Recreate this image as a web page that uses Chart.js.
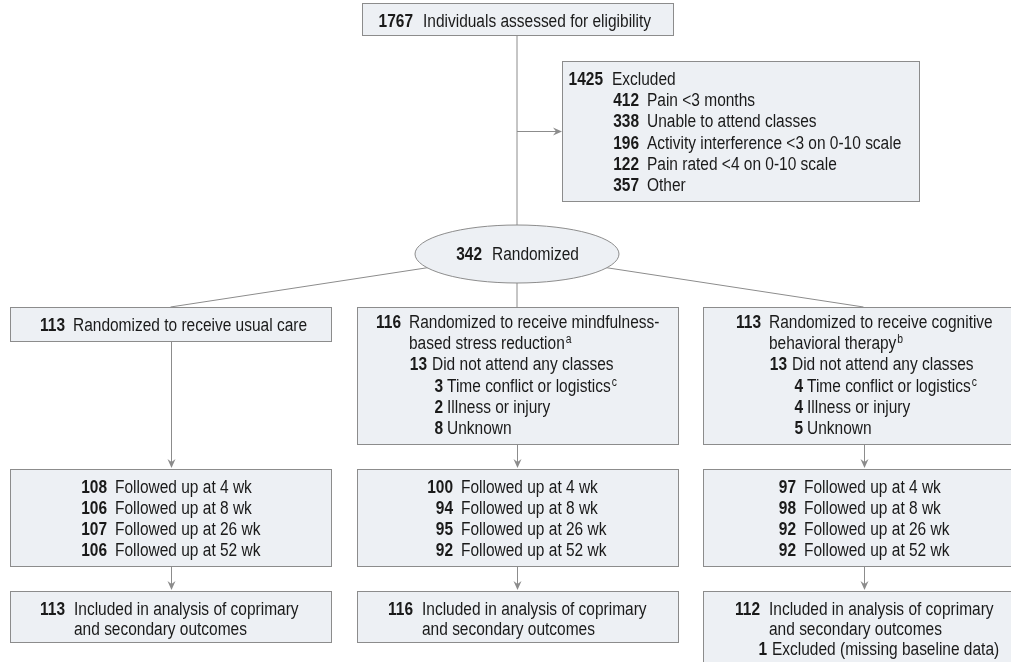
<!DOCTYPE html>
<html>
<head>
<meta charset="utf-8">
<script src="https://cdn.jsdelivr.net/npm/chart.js@4/dist/chart.umd.min.js"></script>
<style>
  html, body { margin: 0; padding: 0; background: #fff; }
  #wrap { width: 1011px; height: 662px; position: relative; }
</style>
</head>
<body>
<div id="wrap"><canvas id="flow"></canvas></div>
<script>
// ══════════════════════════════════════════
// DATA
// ══════════════════════════════════════════
const assessed = 1767;
const excludedTotal = 1425;
const exclusionCounts = [412, 338, 196, 122, 357];
const exclusionReasons = [
  "Pain <3 months",
  "Unable to attend classes",
  "Activity interference <3 on 0-10 scale",
  "Pain rated <4 on 0-10 scale",
  "Other",
];
const randomized = 342;

const armCounts = [113, 116, 113];
const armLabels = [
  ["Randomized to receive usual care"],
  ["Randomized to receive mindfulness-", "based stress reduction"],
  ["Randomized to receive cognitive", "behavioral therapy"],
];
const armNotes = [null, "a", "b"];

const noClassTotals = [null, 13, 13];
const noClassReasons = ["Time conflict or logistics", "Illness or injury", "Unknown"];
const noClassNotes = ["c", null, null];
const noClassCounts = [null, [3, 2, 8], [4, 4, 5]];

const followUpWeeks = [4, 8, 26, 52];
const followUpUsualCare = [108, 106, 107, 106];
const followUpMBSR = [100, 94, 95, 92];
const followUpCBT = [97, 98, 92, 92];
const followUps = [followUpUsualCare, followUpMBSR, followUpCBT];

const analyzedCounts = [113, 116, 112];
const analyzedExcluded = [0, 0, 1];

// ══════════════════════════════════════════
// LAYOUT (page units, same as pixels)
// ══════════════════════════════════════════
// no condensed face installed -> squeeze Liberation Sans horizontally
const FONT = '"Liberation Sans", Arial, sans-serif';
const FS = 18;
const SX = 0.86;
const LINE = "#8c8c8c";
const FILL = "#edf0f4";
const INK = "#1a1a1a";

const colCenter = [170.5, 517, 863.5];
const colLeft = [10, 357, 703];
const colW = 321;
const armBox = { top: 307, bottom: [341, 444, 444] };
const fuBox = { top: 469, bottom: 566 };
const anBox = { top: 591, bottom: [642, 642, 672] };

// ══════════════════════════════════════════
// DRAWING
// ══════════════════════════════════════════
const flowPlugin = {
  id: "flow",
  afterDraw(chart) {
    const { ctx, scales } = chart;
    const X = (v) => scales.x.getPixelForValue(v);
    const Y = (v) => scales.y.getPixelForValue(v);
    const px = (v) => Math.round(v) + 0.5;

    ctx.save();
    ctx.lineWidth = 1;
    ctx.strokeStyle = LINE;

    function line(x0, y0, x1, y1) {
      ctx.beginPath();
      ctx.moveTo(X(x0), Y(y0));
      ctx.lineTo(X(x1), Y(y1));
      ctx.stroke();
    }
    function vArrow(x, y0, y1) {
      const xx = px(X(x));
      ctx.beginPath();
      ctx.moveTo(xx, Y(y0));
      ctx.lineTo(xx, Y(y1) - 6);
      ctx.stroke();
      ctx.fillStyle = LINE;
      ctx.beginPath();
      ctx.moveTo(xx, Y(y1));
      ctx.lineTo(xx - 4, Y(y1) - 9);
      ctx.lineTo(xx, Y(y1) - 6);
      ctx.lineTo(xx + 4, Y(y1) - 9);
      ctx.closePath();
      ctx.fill();
    }
    function hArrow(x0, x1, y) {
      const yy = px(Y(y));
      ctx.beginPath();
      ctx.moveTo(X(x0), yy);
      ctx.lineTo(X(x1) - 6, yy);
      ctx.stroke();
      ctx.fillStyle = LINE;
      ctx.beginPath();
      ctx.moveTo(X(x1), yy);
      ctx.lineTo(X(x1) - 9, yy - 4);
      ctx.lineTo(X(x1) - 6, yy);
      ctx.lineTo(X(x1) - 9, yy + 4);
      ctx.closePath();
      ctx.fill();
    }
    function box(x0, y0, x1, y1) {
      const a = px(X(x0)), b = px(Y(y0)), c = px(X(x1)), d = px(Y(y1));
      ctx.fillStyle = FILL;
      ctx.fillRect(a, b, c - a, d - b);
      ctx.strokeStyle = LINE;
      ctx.strokeRect(a, b, c - a, d - b);
    }
    function squeezed(text, x, y, font, align) {
      ctx.save();
      ctx.font = font;
      ctx.textAlign = align;
      ctx.translate(x, y);
      ctx.scale(SX, 1);
      ctx.fillText(text, 0, 0);
      const w = ctx.measureText(text).width * SX;
      ctx.restore();
      return w;
    }
    function row(num, label, nx, lx, base, sup) {
      ctx.fillStyle = INK;
      ctx.textBaseline = "alphabetic";
      if (num !== null && num !== undefined) {
        squeezed(String(num), X(nx), Y(base), `bold ${FS}px ${FONT}`, "right");
      }
      const w = squeezed(label, X(lx), Y(base), `${FS}px ${FONT}`, "left");
      if (sup) {
        squeezed(sup, X(lx) + w + 1, Y(base) - 6, `12px ${FONT}`, "left");
      }
    }

    // connectors
    line(517, 35, 517, 225);
    hArrow(517, 562, 131);
    colCenter.forEach((cx) => line(517, 254, cx, armBox.top));
    colCenter.forEach((cx, i) => {
      vArrow(cx, armBox.bottom[i], fuBox.top - 1);
      vArrow(cx, fuBox.bottom, anBox.top - 1);
    });

    // top box
    box(362, 3, 673, 35);
    row(assessed, "Individuals assessed for eligibility", 413, 423, 27);

    // excluded box
    box(562, 61, 919, 201);
    row(excludedTotal, "Excluded", 603, 612, 85);
    exclusionCounts.forEach((n, i) =>
      row(n, exclusionReasons[i], 639, 647, 85 + 21.2 * (i + 1)),
    );

    // randomized ellipse
    ctx.fillStyle = FILL;
    ctx.strokeStyle = LINE;
    ctx.beginPath();
    ctx.ellipse(X(517), Y(254), 102, 29, 0, 0, Math.PI * 2);
    ctx.fill();
    ctx.stroke();
    row(randomized, "Randomized", 482, 492, 260);

    // arm boxes
    const armLabelX = [73, 409, 769];
    armCounts.forEach((n, i) => {
      box(colLeft[i], armBox.top, colLeft[i] + colW, armBox.bottom[i]);
      const L = armLabelX[i];
      const lines = armLabels[i];
      lines.forEach((t, k) => {
        const last = k === lines.length - 1;
        row(k === 0 ? n : null, t, L - 8, L, (i === 0 ? 331 : 328) + 21.2 * k, last ? armNotes[i] : null);
      });
      if (noClassTotals[i] !== null) {
        row(noClassTotals[i], "Did not attend any classes", L + 18, L + 23, 328 + 21.2 * 2);
        noClassCounts[i].forEach((c, k) =>
          row(c, noClassReasons[k], L + 34, L + 38, 328 + 21.2 * (3 + k), noClassNotes[k]),
        );
      }
    });

    // follow-up boxes
    const fuNumX = [107, 453, 796];
    followUps.forEach((arr, i) => {
      box(colLeft[i], fuBox.top, colLeft[i] + colW, fuBox.bottom);
      arr.forEach((n, k) =>
        row(n, `Followed up at ${followUpWeeks[k]} wk`, fuNumX[i], fuNumX[i] + 8, 493 + 21 * k),
      );
    });

    // analysis boxes
    const anNumX = [65, 413, 760];
    analyzedCounts.forEach((n, i) => {
      box(colLeft[i], anBox.top, colLeft[i] + colW, anBox.bottom[i]);
      const lx = anNumX[i] + 9;
      row(n, "Included in analysis of coprimary", anNumX[i], lx, 615);
      row(null, "and secondary outcomes", anNumX[i], lx, 635);
      if (analyzedExcluded[i] > 0) {
        row(analyzedExcluded[i], "Excluded (missing baseline data)", lx - 2, lx + 3, 655);
      }
    });

    ctx.restore();
  },
};

new Chart(document.getElementById("flow"), {
  type: "scatter",
  data: { datasets: [{ data: [], pointRadius: 0 }] },
  options: {
    responsive: true,
    maintainAspectRatio: false,
    animation: false,
    layout: { padding: 0 },
    plugins: { legend: { display: false }, tooltip: { enabled: false } },
    scales: {
      x: { type: "linear", min: 0, max: 1011, display: false },
      y: { type: "linear", min: 0, max: 662, reverse: true, display: false },
    },
  },
  plugins: [flowPlugin],
});
</script>
</body>
</html>
